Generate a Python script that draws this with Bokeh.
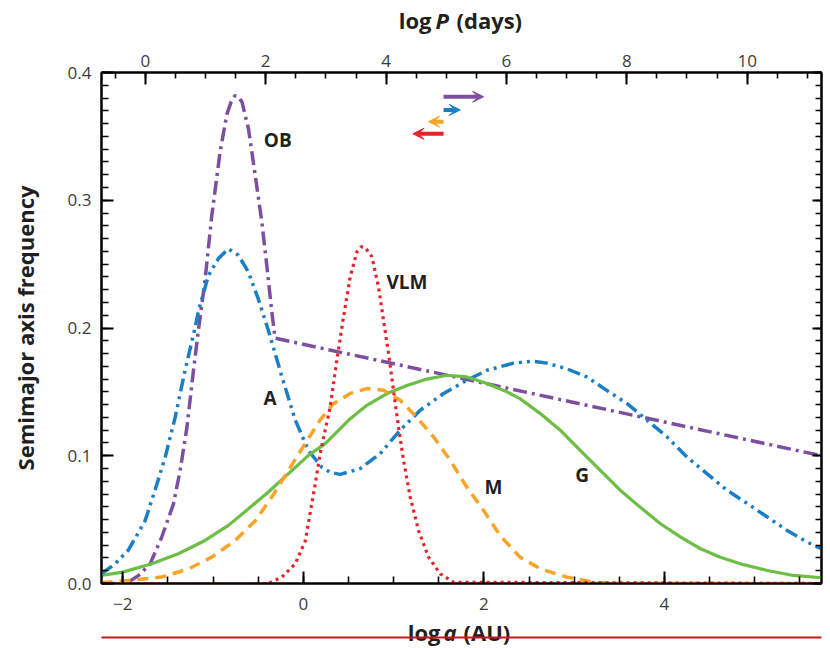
from bokeh.plotting import figure
from bokeh.layouts import column
from bokeh.models import (Range1d, LinearAxis, SingleIntervalTicker, PrintfTickFormatter,
                          Arrow, VeeHead)
from bokeh.core.properties import value
from bokeh.embed import file_html
from bokeh.resources import INLINE

# ---------------- data ----------------
# x: log a (AU), y: semimajor axis frequency
ob_x = [-2.236, -2.0, -1.94, -1.83, -1.70, -1.57, -1.44, -1.366, -1.29, -1.22, -1.163, -1.09,
        -1.014, -0.922, -0.848, -0.80, -0.756, -0.71, -0.68, -0.608, -0.534, -0.46, -0.405,
        -0.35, -0.313, 5.74]
ob_y = [0.0, 0.0, 0.001, 0.006, 0.015, 0.036, 0.062, 0.088, 0.122, 0.165, 0.198, 0.237,
        0.288, 0.338, 0.367, 0.377, 0.382, 0.380, 0.377, 0.356, 0.320, 0.283, 0.249,
        0.213, 0.192, 0.100]

a_x = [-2.236, -2.086, -1.94, -1.754, -1.643, -1.53, -1.42, -1.31, -1.2, -1.163, -1.052, -0.94,
       -0.83, -0.72, -0.61, -0.50, -0.387, -0.238, -0.09, 0.057, 0.205, 0.30, 0.408, 0.63,
       0.85, 1.073, 1.295, 1.553, 1.81, 2.034, 2.33, 2.55, 2.70, 2.92, 3.14, 3.365, 3.587,
       3.81, 4.03, 4.25, 4.47, 4.695, 4.92, 5.14, 5.36, 5.58, 5.74]
a_y = [0.0076, 0.0154, 0.026, 0.049, 0.073, 0.099, 0.130, 0.167, 0.200, 0.213, 0.241, 0.2545,
       0.262, 0.257, 0.244, 0.223, 0.198, 0.162, 0.128, 0.104, 0.091, 0.087, 0.0854, 0.0899,
       0.1016, 0.120, 0.1356, 0.1487, 0.159, 0.1669, 0.1725, 0.174, 0.1725, 0.168, 0.1617,
       0.151, 0.1408, 0.1277, 0.1147, 0.099, 0.086, 0.0729, 0.0625, 0.052, 0.0415, 0.0324,
       0.0272]

g_x = [-2.236, -2.0, -1.68, -1.385, -1.089, -0.83, -0.608, -0.387, -0.165, 0.057, 0.242, 0.334,
       0.519, 0.704, 0.926, 1.147, 1.369, 1.59, 1.81, 2.034, 2.256, 2.40, 2.625, 2.846, 3.07,
       3.29, 3.51, 3.73, 3.956, 4.18, 4.40, 4.62, 4.84, 5.14, 5.43, 5.74]
g_y = [0.0063, 0.0089, 0.0154, 0.0233, 0.0337, 0.0455, 0.0585, 0.0716, 0.086, 0.1003, 0.1095,
       0.116, 0.129, 0.1395, 0.1487, 0.155, 0.160, 0.163, 0.1617, 0.1565, 0.150, 0.1447,
       0.133, 0.120, 0.104, 0.0886, 0.073, 0.0598, 0.0468, 0.0363, 0.0272, 0.0206, 0.0154,
       0.0102, 0.0063, 0.0045]

m_x = [-2.236, -1.94, -1.57, -1.27, -1.014, -0.756, -0.534, -0.35, -0.165, 0.02, 0.186, 0.334,
       0.519, 0.704, 0.888, 1.073, 1.258, 1.443, 1.627, 1.81, 1.997, 2.18, 2.40, 2.625, 2.92,
       3.216, 3.5, 5.74]
m_y = [0.0005, 0.0024, 0.005, 0.0115, 0.0206, 0.0337, 0.049, 0.0676, 0.0886, 0.1095, 0.128,
       0.1408, 0.1487, 0.1526, 0.1513, 0.1434, 0.130, 0.1147, 0.0964, 0.0755, 0.0572, 0.0375,
       0.0206, 0.0115, 0.005, 0.001, 0.0, 0.0]

v_x = [-2.236, -0.387, -0.238, -0.09, 0.02, 0.075, 0.13, 0.186, 0.242, 0.297, 0.371, 0.445,
       0.519, 0.593, 0.64, 0.685, 0.76, 0.833, 0.888, 0.944, 0.999, 1.054, 1.11, 1.184, 1.276,
       1.387, 1.517, 1.664, 5.74]
v_y = [0.0, 0.0, 0.005, 0.0154, 0.033, 0.055, 0.077, 0.1016, 0.12, 0.138, 0.1748, 0.2087,
       0.240, 0.2596, 0.2635, 0.263, 0.2557, 0.232, 0.206, 0.180, 0.151, 0.1225, 0.0964,
       0.0676, 0.0415, 0.0206, 0.0076, 0.001, 0.0]

label_names = ["OB", "A", "VLM", "M", "G"]
label_x = [-0.283, -0.368, 1.147, 2.107, 3.088]
label_y = [0.347, 0.1449, 0.2361, 0.0755, 0.0846]

# arrows (shift of each population when converting log a to log P)
arrow_x0 = [1.553, 1.553, 1.553, 1.553]
arrow_x1 = [1.997, 1.738, 1.387, 1.214]
arrow_y = [0.381, 0.3707, 0.3615, 0.352]
arrow_colors = ["#7D4F9F", "#1B7FC3", "#F7A428", "#EC2028"]

# axis titles, split so the variable can be italic
top_title_parts = ["log", "P", "(days)"]
top_title_styles = ["bold", "bold italic", "bold"]
bottom_title_parts = ["log", "a", "(AU)"]
bottom_title_styles = ["bold", "bold italic", "bold"]

# conversion between log a and log P (days)
logp_offset = 2.625
logp_slope = 1.5

x_lo, x_hi = -2.236, 5.74

PURPLE = "#7D4F9F"
BLUE = "#1B7FC3"
GREEN = "#6DBE45"
ORANGE = "#F7A428"
RED = "#EC2028"
INK = "#231F20"
TICK = "#3C3C3C"
FONT = "Open Sans"

W = 830
FRAME_L = 101
FRAME_R = 821
TOP_H = 38
BOT_H = 31
MAIN_H = 648 - TOP_H - BOT_H


def strip_fig(h):
    # frames in a column are aligned with the main plot's frame, so the strip's
    # x range is expressed in page pixels of that frame
    f = figure(width=W, height=h, x_range=Range1d(FRAME_L, FRAME_R), y_range=Range1d(0, h),
               output_backend="svg", toolbar_location=None,
               x_axis_location=None, y_axis_location=None,
               min_border_left=FRAME_L, min_border_right=W - FRAME_R,
               min_border_top=0, min_border_bottom=0)
    f.xgrid.visible = False
    f.ygrid.visible = False
    f.outline_line_color = None
    f.background_fill_color = "white"
    f.border_fill_color = "white"
    return f


# ---------------- top strip: "log P (days)" ----------------
top = strip_fig(TOP_H)
top.text(x=[431, 435, 456], y=[TOP_H - 19] * 3, text=top_title_parts,
         text_font=value(FONT), text_font_style=top_title_styles, text_font_size="22px",
         text_color=INK, text_align=["right", "left", "left"], text_baseline="middle")

# ---------------- main plot ----------------
p = figure(width=W, height=MAIN_H, x_range=Range1d(x_lo, x_hi), y_range=Range1d(0, 0.4),
           output_backend="svg", toolbar_location=None,
           min_border_left=FRAME_L, min_border_right=W - FRAME_R, min_border_top=72 - TOP_H,
           min_border_bottom=MAIN_H - (583 - TOP_H))
p.xgrid.visible = False
p.ygrid.visible = False
p.outline_line_color = "black"
p.outline_line_width = 2
p.background_fill_color = "white"
p.border_fill_color = "white"

p.extra_x_ranges = {"P": Range1d(logp_slope * x_lo + logp_offset, logp_slope * x_hi + logp_offset)}


def style_axis(ax, major_in, minor_in, label_size="17px", standoff=8):
    ax.axis_line_color = "black"
    ax.axis_line_width = 2
    ax.major_tick_in = major_in
    ax.major_tick_out = 0
    ax.minor_tick_in = minor_in
    ax.minor_tick_out = 0
    ax.major_tick_line_width = 2
    ax.minor_tick_line_width = 1.6
    ax.major_tick_line_color = "black"
    ax.minor_tick_line_color = "black"
    ax.major_label_text_font = FONT
    ax.major_label_text_font_size = label_size
    ax.major_label_text_color = TICK
    ax.major_label_standoff = standoff


# bottom axis
xb = p.xaxis[0]
xb.ticker = SingleIntervalTicker(interval=2, num_minor_ticks=4)
style_axis(xb, 12, 7, standoff=14)
xb.major_label_overrides = {-2: "\u22122", 0: "0", 2: "2", 4: "4"}

# left axis
yl = p.yaxis[0]
yl.ticker = SingleIntervalTicker(interval=0.1, num_minor_ticks=10)
yl.formatter = PrintfTickFormatter(format="%.1f")
style_axis(yl, 12, 7, standoff=10)
yl.axis_label = "Semimajor axis frequency"
yl.axis_label_text_font = FONT
yl.axis_label_text_font_style = "bold"
yl.axis_label_text_font_size = "22px"
yl.axis_label_text_color = INK
yl.axis_label_standoff = 25

# top axis (log P)
xt = LinearAxis(x_range_name="P", ticker=SingleIntervalTicker(interval=2, num_minor_ticks=4))
style_axis(xt, 12, 6, standoff=6)
p.add_layout(xt, "above")

# right axis (ticks only)
yr = LinearAxis(ticker=SingleIntervalTicker(interval=0.1, num_minor_ticks=10))
style_axis(yr, 9, 6, label_size="0px", standoff=0)
yr.major_label_text_alpha = 0
p.add_layout(yr, "right")

# curves
p.line(ob_x, ob_y, line_color=PURPLE, line_width=3.5, line_dash="14 5 3 5")
p.line(a_x, a_y, line_color=BLUE, line_width=3.5, line_dash="13 5 3 5 3 5")
p.line(g_x, g_y, line_color=GREEN, line_width=3.2)
p.line(m_x, m_y, line_color=ORANGE, line_width=3.5, line_dash="11 7")
p.line(v_x, v_y, line_color=RED, line_width=3.2, line_dash="3 4")

# small magenta marker at log a = -2
p.segment(x0=[-2.0], y0=[0.0], x1=[-2.0], y1=[0.009], line_color="#E5177E", line_width=1.6)

# curve labels
p.text(x=label_x, y=label_y, text=label_names, text_font=value(FONT), text_font_style="bold",
       text_font_size="19px", text_color=INK, text_align="center", text_baseline="middle")

# arrows
for xs, xe, yy, c in zip(arrow_x0, arrow_x1, arrow_y, arrow_colors):
    p.add_layout(Arrow(x_start=xs, y_start=yy, x_end=xe, y_end=yy, line_color=c, line_width=4,
                       end=VeeHead(size=11, fill_color=c, line_color=c, line_width=1)))

# ---------------- bottom strip: "log a (AU)" ----------------
bot = strip_fig(BOT_H)
bot.text(x=[440, 443, 463], y=[648 - 631] * 3, text=bottom_title_parts,
         text_font=value(FONT), text_font_style=bottom_title_styles, text_font_size="22px",
         text_color=INK, text_align=["right", "left", "left"], text_baseline="middle")
# red rule crossing the bottom of the page (as in the source scan)
bot.line(x=[0, W], y=[648 - 637] * 2, line_color="#C8161D", line_width=2)

layout = column(top, p, bot, spacing=0)
open("out.html", "w").write(file_html(layout, INLINE))
